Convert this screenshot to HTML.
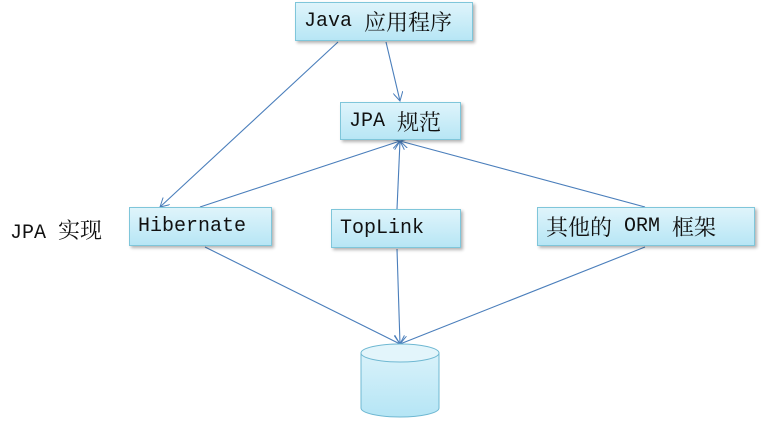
<!DOCTYPE html>
<html><head><meta charset="utf-8"><style>
body{margin:0;width:761px;height:426px;background:#fff;overflow:hidden;position:relative}
.b{position:absolute;box-sizing:border-box;border:1px solid #7fc6da;background:linear-gradient(#dff4fb,#b7e6f5);box-shadow:2px 2px 3px rgba(0,0,0,.3);font-family:"Liberation Mono","Noto Serif CJK SC",monospace;font-size:20px;color:#111;display:flex;align-items:center;padding-left:8px;white-space:pre}
.t{position:absolute;font-family:"Liberation Mono","Noto Serif CJK SC",monospace;font-size:20px;color:#111;white-space:pre}
.c{font-family:"Noto Serif CJK SC",serif;font-size:22px}
svg{position:absolute;left:0;top:0}
</style></head><body>
<svg width="761" height="426">
<defs><marker id="a" markerWidth="10" markerHeight="10" refX="9" refY="5" orient="auto" markerUnits="userSpaceOnUse"><path d="M0,0 L9,5 L0,10" fill="none" stroke="#4a7ebb" stroke-width="1"/></marker>
<linearGradient id="g" x1="0" y1="0" x2="0" y2="1"><stop offset="0" stop-color="#d9f2fa"/><stop offset="1" stop-color="#b5e5f5"/></linearGradient></defs>
<g stroke="#4a7ebb" stroke-width="1.1" fill="none" marker-end="url(#a)">
<line x1="338" y1="42" x2="160" y2="207"/>
<line x1="386" y1="42" x2="400" y2="101"/>
<line x1="200" y1="207" x2="400" y2="141"/>
<line x1="397" y1="209" x2="400" y2="141"/>
<line x1="645" y1="207" x2="400" y2="141"/>
<line x1="205" y1="247" x2="400" y2="344"/>
<line x1="397" y1="249" x2="400" y2="344"/>
<line x1="645" y1="247" x2="400" y2="344"/>
</g>
<path d="M361,353 L361,408 A39,9 0 0 0 439,408 L439,353 Z" fill="url(#g)" stroke="#6fb8d2"/>
<ellipse cx="400" cy="353" rx="39" ry="9" fill="#e3f5fb" stroke="#6fb8d2"/>
</svg>
<div class="b" style="left:295px;top:2px;width:178px;height:39px">Java <span class="c">应用程序</span></div>
<div class="b" style="left:340px;top:102px;width:121px;height:38px">JPA <span class="c">规范</span></div>
<div class="b" style="left:129px;top:207px;width:143px;height:39px">Hibernate</div>
<div class="b" style="left:331px;top:209px;width:130px;height:39px">TopLink</div>
<div class="b" style="left:537px;top:207px;width:218px;height:39px"><span class="c">其他的</span> ORM <span class="c">框架</span></div>
<div class="t" style="left:10px;top:214px">JPA <span class="c">实现</span></div>
</body></html>
